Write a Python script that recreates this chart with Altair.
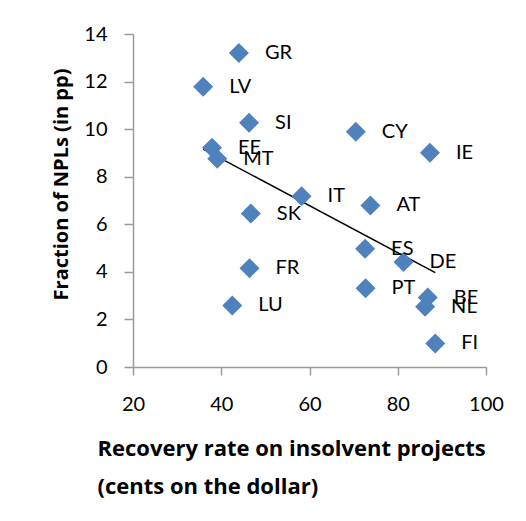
import altair as alt
import pandas as pd

countries = ["GR", "LV", "SI", "CY", "IE", "EE", "MT", "IT", "AT", "SK",
             "ES", "DE", "FR", "PT", "BE", "NL", "LU", "FI"]
recovery = [44.0, 35.9, 46.3, 70.5, 87.3, 37.9, 39.1, 58.2, 73.8, 46.7,
            72.6, 81.3, 46.4, 72.7, 86.8, 86.2, 42.5, 88.5]
npl = [13.2, 11.78, 10.27, 9.89, 9.01, 9.22, 8.76, 7.18, 6.79, 6.45,
       4.97, 4.41, 4.15, 3.31, 2.92, 2.53, 2.59, 0.99]
x_ticks = [20, 40, 60, 80, 100]
y_ticks = [0, 2, 4, 6, 8, 10, 12, 14]
x_title = ["Recovery rate on insolvent projects", "(cents on the dollar)"]
y_title = "Fraction of NPLs (in pp)"

df = pd.DataFrame({"country": countries, "recovery": recovery, "npl": npl})

FONT = "Lato"
TITLE_FONT = "Open Sans"
AXIS_COLOR = "#9a9a9a"

x_enc = alt.X(
    "recovery:Q",
    scale=alt.Scale(domain=[20, 100], nice=False, zero=False),
    axis=alt.Axis(
        values=x_ticks, grid=False, title=x_title, labelFlush=False,
        domainColor=AXIS_COLOR, tickColor=AXIS_COLOR, domainWidth=1.5, tickWidth=1.5,
        tickSize=8, labelFontSize=20, labelFont=FONT, labelColor="black",
        labelPadding=19,
        titleFont=TITLE_FONT, titleFontSize=22, titleFontWeight="bold", titleColor="black",
        titleAlign="left", titleBaseline="top", titleX=-36, titleY=71,
        titleLineHeight=38,
    ),
)
y_enc = alt.Y(
    "npl:Q",
    scale=alt.Scale(domain=[0, 14], nice=False),
    axis=alt.Axis(
        values=y_ticks, grid=False, title=y_title, labelFlush=False,
        domainColor=AXIS_COLOR, tickColor=AXIS_COLOR, domainWidth=1.5, tickWidth=1.5,
        tickSize=9, labelFontSize=20, labelFont=FONT, labelColor="black",
        labelPadding=17,
        titleFont=TITLE_FONT, titleFontSize=20, titleFontWeight="bold", titleColor="black",
        titleAlign="center", titleBaseline="middle", titleX=-72, titleY=150,
        titleAngle=270,
    ),
)

points = alt.Chart(df).mark_point(
    shape="diamond", filled=True, size=400, color="#4F81BD", opacity=1
).encode(x=x_enc, y=y_enc)

labels = alt.Chart(df).mark_text(
    align="left", baseline="middle", dx=26, fontSize=20, font=FONT, color="black"
).encode(x=x_enc, y=y_enc, text="country:N")

trend = alt.Chart(df).transform_regression(
    "recovery", "npl"
).mark_line(color="black", strokeWidth=1.5).encode(x=x_enc, y=y_enc)

chart = alt.layer(trend, points, labels).properties(
    width=353, height=333,
    autosize=alt.AutoSizeParams(type="none"),
    padding={"left": 125, "top": 26, "right": 32, "bottom": 146},
    background="white",
).configure_view(stroke=None)

chart.save("out.html", embed_options={"renderer": "svg", "actions": False})
